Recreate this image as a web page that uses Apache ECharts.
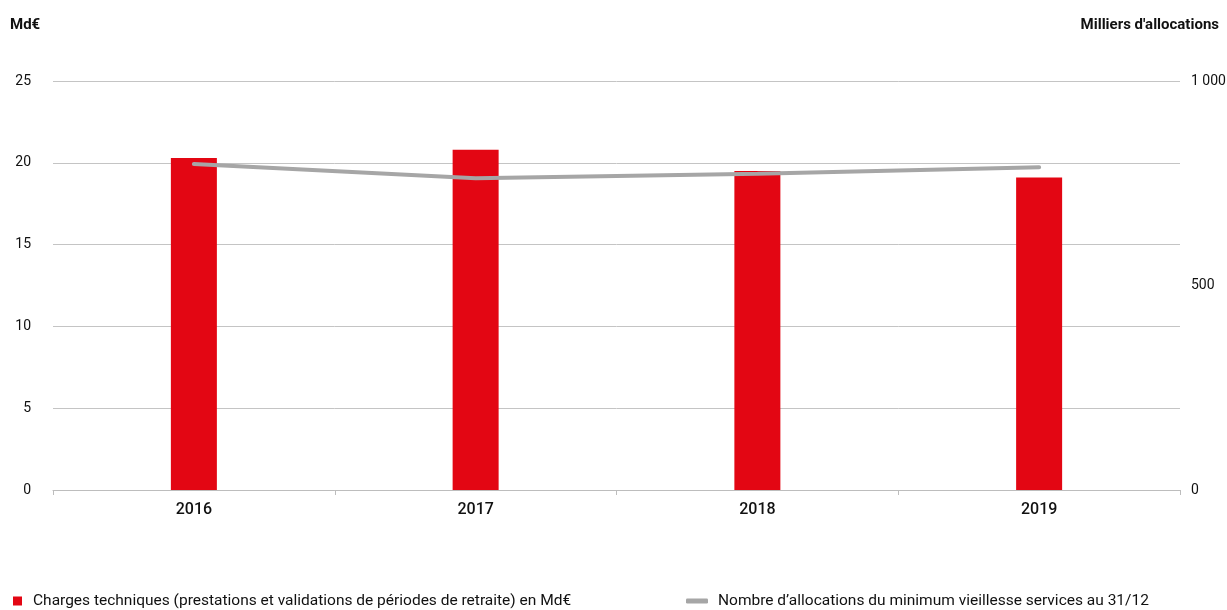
<!DOCTYPE html>
<html>
<head>
<meta charset="utf-8">
<script src="https://cdn.jsdelivr.net/npm/echarts@6/dist/echarts.min.js"></script>
<style>
  html, body { margin: 0; padding: 0; background: #fff; }
  #chart { width: 1227px; height: 610px; }
</style>
</head>
<body>
<div id="chart"></div>
<script>
// Years on the category axis
const years = ['2016', '2017', '2018', '2019'];
// Technical charges (benefits and retirement period validations), billions of euros
const charges = [20.3, 20.8, 19.5, 19.1];
// Minimum old-age allowances in payment at 31/12, thousands
const allocations = [797, 762, 773, 789];
// Tick values shown on the right-hand axis
const rightTicks = [0, 500, 1000];

const FONT = '"Roboto", sans-serif';
const RED = '#e30613';
const GREY_LINE = '#a6a6a6';

const chart = echarts.init(document.getElementById('chart'));
chart.setOption({
  animation: false,
  textStyle: { fontFamily: FONT },
  title: [
    { text: 'Md€', left: 10, top: 18, padding: 0, textStyle: { fontFamily: FONT, fontSize: 15, fontWeight: 'bold', color: '#111' } },
    { text: "Milliers d'allocations", right: 8, top: 18, padding: 0, textStyle: { fontFamily: FONT, fontSize: 15, fontWeight: 'bold', color: '#111' } }
  ],
  legend: [
    {
      data: [{ name: 'Charges techniques (prestations et validations de périodes de retraite) en Md€', icon: 'rect' }],
      left: 13, top: 593, padding: 0, itemWidth: 9, itemHeight: 9, itemGap: 10,
      textStyle: { fontFamily: FONT, fontSize: 15.5, color: '#111', padding: [0, 0, 0, 6] }
    },
    {
      data: [{ name: 'Nombre d’allocations du minimum vieillesse services au 31/12', icon: 'roundRect' }],
      left: 686, top: 593, padding: 0, itemWidth: 22, itemHeight: 5, itemGap: 10,
      textStyle: { fontFamily: FONT, fontSize: 15.5, color: '#111', padding: [0, 0, 0, 5] }
    }
  ],
  grid: { left: 53, right: 47, top: 81, bottom: 120, containLabel: false, outerBoundsMode: 'none' },
  xAxis: {
    type: 'category',
    data: years,
    axisLine: { lineStyle: { color: '#bdbdbd', width: 1 } },
    axisTick: { show: true, length: 5, lineStyle: { color: '#bdbdbd' } },
    axisLabel: { color: '#111', fontSize: 16, fontWeight: 500, margin: 12, fontFamily: FONT }
  },
  yAxis: [
    {
      type: 'value', min: 0, max: 25, interval: 5,
      axisLine: { show: false }, axisTick: { show: false },
      axisLabel: { color: '#111', fontSize: 14, margin: 22, fontFamily: FONT },
      splitLine: { lineStyle: { color: '#c4c4c4', width: 1 } }
    },
    {
      type: 'value', min: 0, max: 1000, interval: 500,
      axisLine: { show: false }, axisTick: { show: false },
      axisLabel: {
        color: '#111', fontSize: 14, margin: 11, fontFamily: FONT,
        formatter: v => rightTicks.includes(v) ? String(v).replace(/\B(?=(\d{3})+(?!\d))/g, ' ') : ''
      },
      splitLine: { show: false }
    }
  ],
  series: [
    {
      name: 'Charges techniques (prestations et validations de périodes de retraite) en Md€',
      type: 'bar', data: charges, yAxisIndex: 0,
      barWidth: 46, itemStyle: { color: RED }
    },
    {
      name: 'Nombre d’allocations du minimum vieillesse services au 31/12',
      type: 'line', data: allocations, yAxisIndex: 1,
      symbol: 'none', lineStyle: { color: GREY_LINE, width: 4, cap: 'round' },
      itemStyle: { color: GREY_LINE }
    }
  ]
});
</script>
</body>
</html>
